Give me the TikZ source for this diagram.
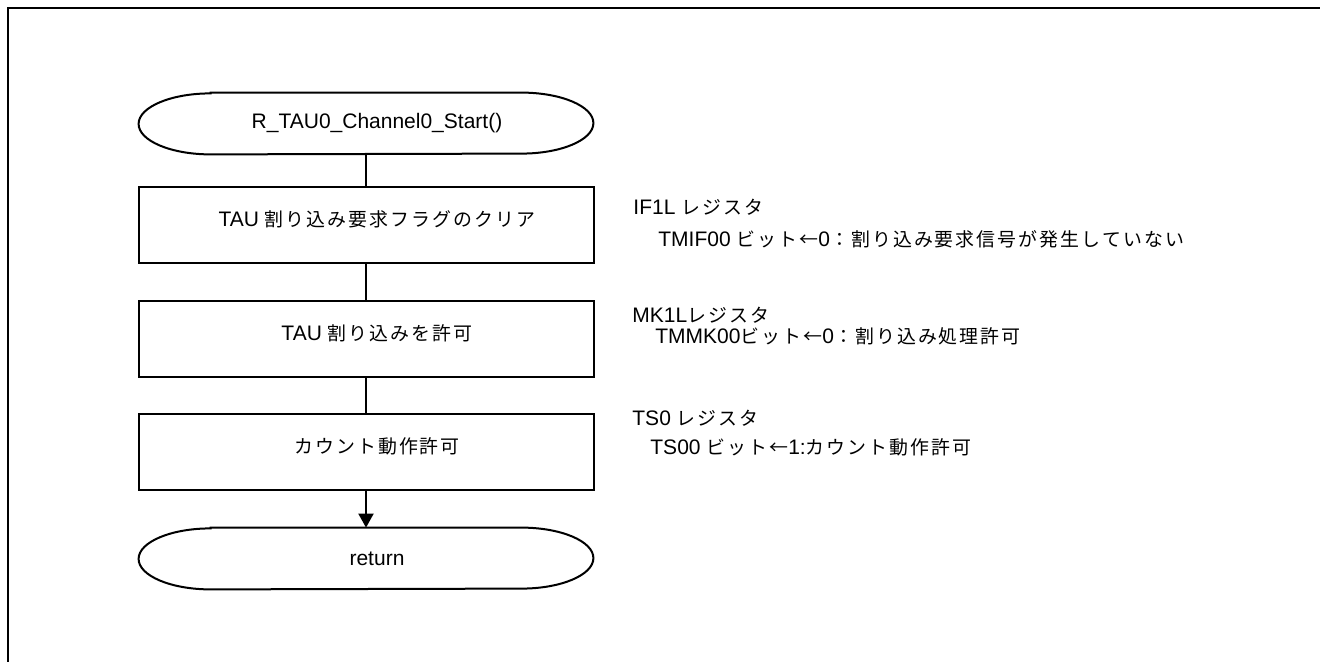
\documentclass[tikz,border=0pt]{standalone}
\usepackage{fontspec}
\setmainfont{Liberation Sans}
\newfontfamily\jp[Scale=0.9,LetterSpace=11]{Noto Sans CJK JP}
\usepackage{tikz}
\usetikzlibrary{arrows.meta, positioning}
\tikzstyle{arrow} = [line width=1pt,-{Triangle[length=7pt,width=7.5pt]}]
\tikzstyle{line} = [line width=1pt]
\tikzstyle{procbox} = [rectangle, draw, line width=1pt, minimum width=227.5pt, minimum height=38pt, inner sep=0pt, text height=6pt, text depth=4.3pt]
\tikzstyle{termbox} = [rectangle, minimum width=227pt, minimum height=30.5pt, inner sep=0pt]
\tikzstyle{note} = [anchor=base west, inner sep=0pt]
% outline of a terminal with elliptic ends
\newcommand{\termline}[1]{%
  \draw[line] ([xshift=36pt]#1.north west) -- ([xshift=-36pt]#1.north east)
    arc[start angle=90, end angle=-90, x radius=36pt, y radius=15.25pt]
    -- ([xshift=36pt]#1.south west)
    arc[start angle=270, end angle=90, x radius=36pt, y radius=15.25pt] -- cycle;}
% texts in the flow sit a little right of centre
\newcommand{\rs}{\hspace*{11pt}}

\begin{document}
\begin{tikzpicture}[x=0.5pt, y=-0.5pt, every node/.style={font=\fontsize{10.5pt}{12.5pt}\selectfont}]
    \useasboundingbox (0,0) rectangle (1320,662);

    % Frame
    \draw[line width=1.1pt] (8,662) -- (8,8) -- (1320,8);

    % Flow
    \node[termbox] (start) at (366,123.5) {\rs R\_TAU0\_Channel0\_Start()};
    \termline{start}
    \node[procbox] (clrflag) at (366,225) {\rs TAU {\jp 割り込み要求フラグのクリア}};
    \node[procbox] (enint) at (366,339) {\rs TAU {\jp 割り込みを許可}};
    \node[procbox] (cntstart) at (366,452) {\rs{\jp カウント動作許可}};
    \node[termbox] (ret) at (366,558.5) {\rs return};
    \termline{ret}

    % Connectors
    \draw[line] (start.south) -- (clrflag.north);
    \draw[line] (clrflag.south) -- (enint.north);
    \draw[line] (enint.south) -- (cntstart.north);
    \draw[arrow] (cntstart.south) -- (ret.north);

    % Register notes
    \node[note] (if1l) at (633,215) {IF1L {\jp レジスタ}};
    \node[note] (tmif) at (658,247) {TMIF00 {\jp ビット←}0{\jp ：割り込み要求信号が発生していない}};
    \node[note] (mk1l) at (632,322.5) {MK1L{\jp レジスタ}};
    \node[note] (tmmk) at (655,343.5) {TMMK00{\jp ビット←}0{\jp ：割り込み処理許可}};
    \node[note] (ts0) at (632,425) {TS0 {\jp レジスタ}};
    \node[note] (ts00) at (650,454) {TS00 {\jp ビット←}1:{\jp カウント動作許可}};
\end{tikzpicture}
\end{document}
